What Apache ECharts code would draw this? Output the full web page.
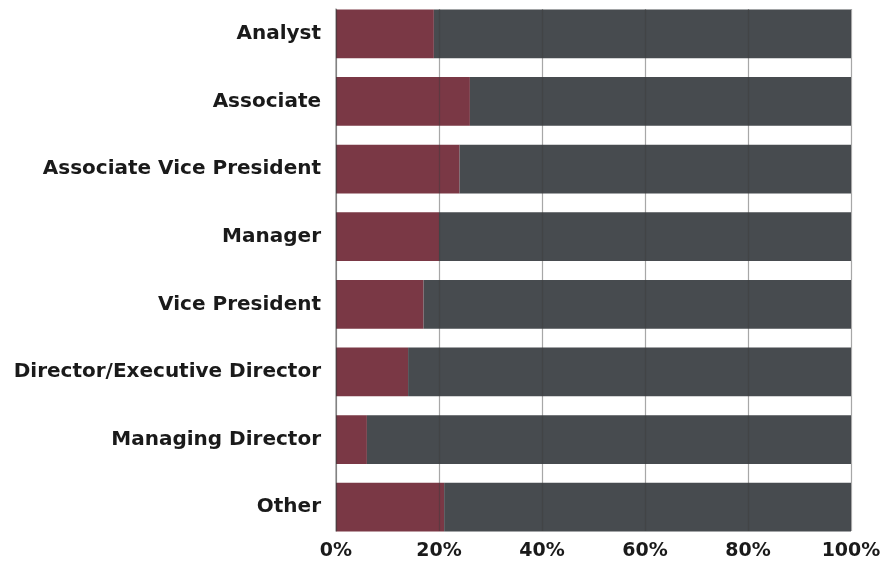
<!DOCTYPE html>
<html>
<head>
<meta charset="utf-8">
<script src="https://cdn.jsdelivr.net/npm/echarts@6/dist/echarts.min.js"></script>
<style>
  html, body { margin: 0; padding: 0; background: #fff; }
  #chart { width: 889px; height: 563px; }
</style>
</head>
<body>
<div id="chart"></div>
<script>
// Job levels, top to bottom
const categories = [
  'Analyst',
  'Associate',
  'Associate Vice President',
  'Manager',
  'Vice President',
  'Director/Executive Director',
  'Managing Director',
  'Other'
];
// Share (%) in the first segment of each bar
const firstShare = [19, 26, 24, 20, 17, 14, 6, 21];
// Remaining share (%) of each bar
const restShare = [81, 74, 76, 80, 83, 86, 94, 79];
// Percentage axis ticks
const tickValues = [0, 20, 40, 60, 80, 100];

const FONT = 'DejaVu Sans';
const chart = echarts.init(document.getElementById('chart'), null, { renderer: 'canvas' });

chart.setOption({
  animation: false,
  backgroundColor: '#ffffff',
  grid: [
    { left: 336, right: 38, top: 0, bottom: 22, containLabel: false },
    { left: 336, right: 38, top: 9, bottom: 32, containLabel: false }
  ],
  xAxis: [
    {
      gridIndex: 0, type: 'value', min: 0, max: 100, show: false
    },
    {
      gridIndex: 1, type: 'value', min: tickValues[0], max: tickValues[tickValues.length - 1],
      interval: tickValues[1] - tickValues[0],
      z: 5,
      axisLine: { show: false },
      axisTick: { show: false },
      axisLabel: {
        formatter: '{value}%',
        fontFamily: FONT, fontWeight: 'bold', fontSize: 19, color: '#1a1a1a', margin: 11
      },
      splitLine: { show: true, lineStyle: { color: 'rgba(60,60,60,0.45)', width: 1.2 } }
    }
  ],
  yAxis: [
    {
      gridIndex: 0, type: 'category', data: categories, inverse: true,
      axisLine: { show: false },
      axisTick: { show: false },
      axisLabel: {
        fontFamily: FONT, fontWeight: 'bold', fontSize: 20, color: '#1a1a1a', margin: 15
      }
    },
    {
      gridIndex: 1, type: 'value', min: 0, max: 1,
      z: 5,
      axisLine: { show: true, lineStyle: { color: 'rgba(60,60,60,0.45)', width: 1.5 } },
      axisTick: { show: false },
      axisLabel: { show: false },
      splitLine: { show: false }
    }
  ],
  series: [
    {
      type: 'bar', stack: 'total', xAxisIndex: 0, yAxisIndex: 0,
      data: firstShare, barCategoryGap: '28%',
      itemStyle: { color: '#7a3845' }
    },
    {
      type: 'bar', stack: 'total', xAxisIndex: 0, yAxisIndex: 0,
      data: restShare, barCategoryGap: '28%',
      itemStyle: { color: '#474b4f' }
    }
  ]
});
</script>
</body>
</html>
